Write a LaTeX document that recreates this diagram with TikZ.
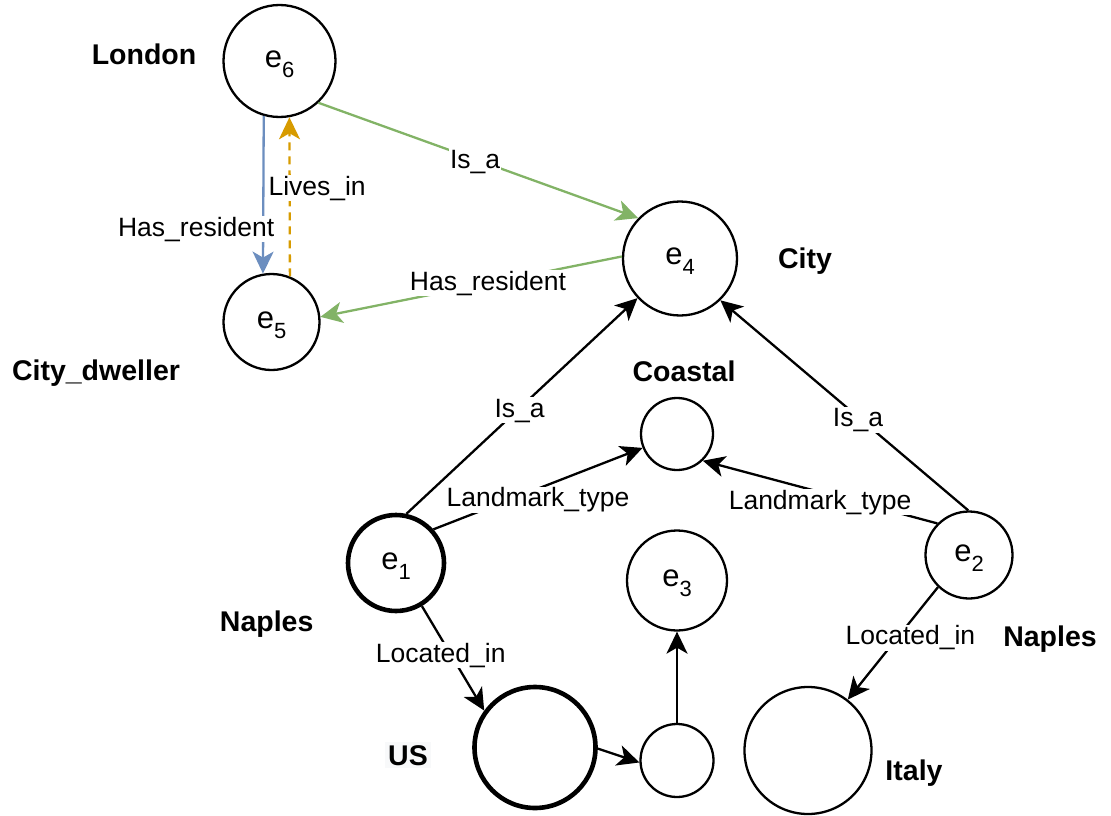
\documentclass[tikz,border=0pt]{standalone}
\usepackage{fontspec}
\setmainfont{Liberation Sans}
\usetikzlibrary{arrows.meta}

\definecolor{gedge}{HTML}{82B366}
\definecolor{bedge}{HTML}{6C8EBF}
\definecolor{oedge}{HTML}{D79B00}
\definecolor{usbg}{HTML}{F8F9FA}

% entity name with a lowered index
\newcommand\esub[1]{e\raisebox{-10pt}{\fontsize{22}{22}\selectfont #1}}

\begin{document}
\begin{tikzpicture}[x=1pt,y=-1pt,
  ent/.style={circle,draw,line width=2.3pt,inner sep=0pt,
    text height=15pt,text depth=2.6pt,font=\fontsize{31}{31}\selectfont},
  entthick/.style={ent,line width=4.6pt},
  tag/.style={font=\bfseries\fontsize{28.5}{28.5}\selectfont,anchor=base,inner sep=0pt},
  rel/.style={line width=2.3pt,-{Stealth[length=22pt,width=21pt,inset=6pt]}},
  lbl/.style={fill=white,text=black,inner sep=1pt,font=\fontsize{26.5}{26.5}\selectfont,
    text height=19pt,text depth=5pt},
]
\useasboundingbox (0,0) rectangle (1111,816);

% entities
\node[ent,minimum size=112pt] (e6) at (279.5,61) {\esub{6}};
\node[ent,minimum size=96pt] (e5) at (271.5,322) {\esub{5}};
\node[ent,minimum size=114pt] (e4) at (680,258.5) {\esub{4}};
\node[ent,minimum size=72pt] (coastal) at (677,434) {};
\node[entthick,minimum size=96pt] (e1) at (396,563) {\esub{1}};
\node[ent,minimum size=100pt] (e3) at (677,580.5) {\esub{3}};
\node[ent,minimum size=87pt] (e2) at (969,555) {\esub{2}};
\node[entthick,minimum size=121pt] (us) at (535,747.5) {};
\node[ent,minimum size=73pt] (small) at (677,760.5) {};
\node[ent,minimum size=127pt] (italy) at (808,750.5) {};

% names
\node[tag] (tLondon) at (144,64) {London};
\node[tag] (tDweller) at (96,380.7) {City\_dweller};
\node[tag] (tCity) at (805,268.3) {City};
\node[tag] (tCoastal) at (684,381.7) {Coastal};
\node[tag] (tNaplesA) at (266.7,631.7) {Naples};
\node[tag] (tNaplesB) at (1050,646.7) {Naples};
\node[tag,fill=usbg,inner sep=3pt] (tUS) at (408,765) {US};
\node[tag] (tItaly) at (914,780) {Italy};

% relations
\draw[rel,gedge] (e6.-47) -- node[lbl,pos=0.49,yshift=-2pt]{Is\_a} (e4.136);
\draw[rel,bedge] (e6.-106) -- node[lbl,pos=0.72,xshift=-67pt]{Has\_resident} (e5.100);
\draw[rel,oedge,dash pattern=on 8pt off 6pt] (e5.68) -- node[lbl,pos=0.555,xshift=27.5pt]{Lives\_in} (e6.-80);
\draw[rel,gedge] (e4.178) -- node[lbl,pos=0.444]{Has\_resident} (e5.6);
\draw[rel] (e1.78) -- node[lbl,pos=0.49,yshift=-2pt]{Is\_a} (e4.223);
\draw[rel] (e1.42) -- node[lbl,pos=0.5,yshift=-11pt]{Landmark\_type} (coastal.202);
\draw[rel] (e2.91) -- node[lbl,pos=0.445,yshift=-3pt]{Is\_a} (e4.-46);
\draw[rel] (e2.135) -- node[lbl,pos=0.5,yshift=-10pt]{Landmark\_type} (coastal.-46);
\draw[rel] (e2.226) -- node[lbl,pos=0.45,xshift=13pt]{Located\_in} (italy.52);
\draw[rel] (e1.-59) -- node[lbl,pos=0.47,xshift=-10.5pt]{Located\_in} (us.144);
\draw[rel] (us.-1) -- (small.183);
\draw[rel] (small.90) -- (e3.-90);
\end{tikzpicture}
\end{document}
